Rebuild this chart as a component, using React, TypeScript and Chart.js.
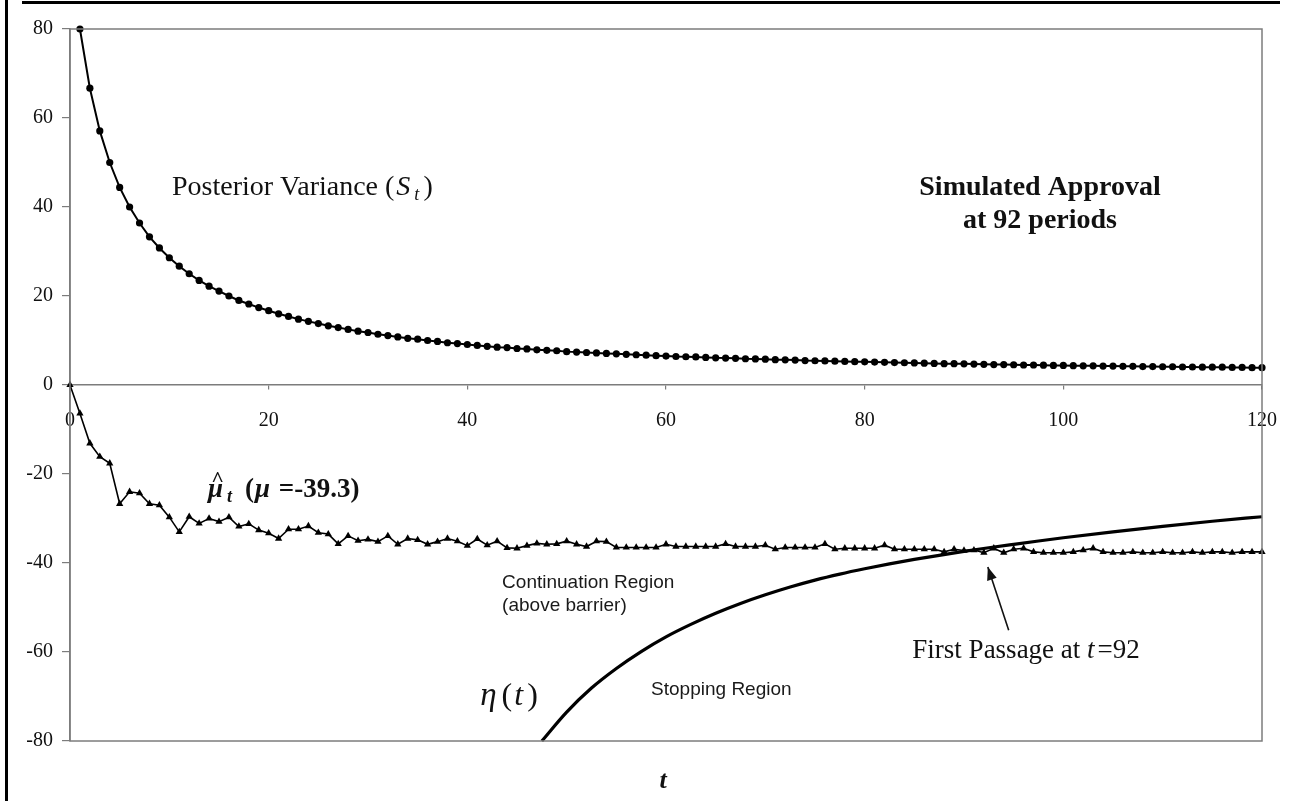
import React, { useEffect, useRef } from 'react';
import { Chart, registerables } from 'chart.js';

Chart.register(...registerables);

// ---- data ----
const xTickValues = [0, 20, 40, 60, 80, 100, 120];
const yTickValues = [-80, -60, -40, -20, 0, 20, 40, 60, 80];

// Posterior variance S_t, starting at t = 1
const varianceStartT = 1;
const varianceValues = [
  80.0, 66.7, 57.1, 50.0, 44.4, 40.0, 36.4, 33.3, 30.8, 28.6,
  26.7, 25.0, 23.5, 22.2, 21.1, 20.0, 19.0, 18.2, 17.4, 16.7,
  16.0, 15.4, 14.8, 14.3, 13.8, 13.3, 12.9, 12.5, 12.1, 11.8,
  11.4, 11.1, 10.8, 10.5, 10.3, 10.0, 9.8, 9.5, 9.3, 9.1,
  8.9, 8.7, 8.5, 8.4, 8.2, 8.1, 7.9, 7.8, 7.7, 7.5,
  7.4, 7.3, 7.2, 7.1, 7.0, 6.9, 6.8, 6.7, 6.6, 6.5,
  6.4, 6.35, 6.3, 6.2, 6.1, 6.05, 6.0, 5.9, 5.85, 5.8,
  5.7, 5.65, 5.6, 5.5, 5.45, 5.4, 5.35, 5.3, 5.25, 5.2,
  5.15, 5.1, 5.05, 5.0, 4.95, 4.9, 4.85, 4.8, 4.8, 4.75,
  4.7, 4.65, 4.6, 4.6, 4.55, 4.5, 4.5, 4.45, 4.4, 4.4,
  4.35, 4.3, 4.3, 4.25, 4.25, 4.2, 4.2, 4.15, 4.15, 4.1,
  4.1, 4.05, 4.05, 4.0, 4.0, 4.0, 3.95, 3.95, 3.9, 3.9,
];

// Posterior mean estimate mu-hat_t, starting at t = 0
const muStartT = 0;
const muValues = [
  0, -6.4, -13.1, -16.1, -17.6, -26.7, -24.0, -24.3, -26.7, -27.0,
  -29.7, -33.0, -29.6, -31.1, -30.0, -30.7, -29.7, -31.8, -31.2, -32.6,
  -33.3, -34.5, -32.4, -32.4, -31.7, -33.2, -33.5, -35.7, -33.9, -35.0,
  -34.7, -35.2, -33.9, -35.8, -34.5, -34.8, -35.8, -35.2, -34.5, -35.1,
  -36.1, -34.6, -36.0, -35.1, -36.6, -36.7, -36.1, -35.6, -35.8, -35.7,
  -35.1, -35.8, -36.3, -35.1, -35.2, -36.5, -36.5, -36.5, -36.5, -36.5,
  -35.8, -36.3, -36.3, -36.3, -36.3, -36.3, -35.7, -36.3, -36.3, -36.3,
  -36.0, -36.9, -36.5, -36.5, -36.5, -36.5, -35.7, -36.9, -36.7, -36.7,
  -36.7, -36.7, -36.0, -36.9, -36.9, -36.9, -36.9, -36.9, -37.5, -36.9,
  -37.2, -37.1, -37.7, -36.7, -37.7, -36.9, -36.7, -37.5, -37.7, -37.7,
  -37.7, -37.5, -37.1, -36.7, -37.5, -37.7, -37.7, -37.5, -37.7, -37.7,
  -37.5, -37.7, -37.7, -37.5, -37.7, -37.5, -37.5, -37.7, -37.5, -37.5,
  -37.5,
];

// Barrier eta(t)
const barrierT = [
  47.5, 50, 52.5, 55, 57.5, 60, 62.5, 65, 67.5, 70, 72.5, 75, 77.5, 80,
  82.5, 85, 87.5, 90, 92.5, 95, 97.5, 100, 105, 110, 115, 120,
];
const barrierValues = [
  -80.0, -73.5, -68.1, -63.7, -59.9, -56.6, -53.8, -51.3, -49.1, -47.15, -45.4, -43.85, -42.5, -41.3,
  -40.2, -39.2, -38.27, -37.4, -36.57, -35.8, -35.05, -34.33, -33.0, -31.75, -30.62, -29.6,
];

const SERIF = '"Liberation Serif", "Times New Roman", serif';
const SANS = '"Liberation Sans", Arial, sans-serif';

type Part = { text: string; font: string; dx?: number; dy?: number };

const annotationPlugin = {
  id: 'figureAnnotations',
  afterDraw(chart: any) {
    const { ctx, chartArea: ca, scales } = chart;
    const X = (t: number) => scales.x.getPixelForValue(t);
    const Y = (v: number) => scales.y.getPixelForValue(v);
    ctx.save();

    // plot frame
    ctx.strokeStyle = '#7c7c7c';
    ctx.lineWidth = 1.5;
    ctx.strokeRect(ca.left, ca.top, ca.right - ca.left, ca.bottom - ca.top);

    ctx.fillStyle = '#111';
    ctx.textBaseline = 'alphabetic';
    ctx.textAlign = 'left';

    const seq = (parts: Part[], x0: number, y0: number) => {
      let cx = x0;
      for (const p of parts) {
        ctx.font = p.font;
        cx += p.dx || 0;
        ctx.fillText(p.text, cx, y0 + (p.dy || 0));
        cx += ctx.measureText(p.text).width;
      }
    };

    // Posterior Variance (S_t)
    seq(
      [
        { text: 'Posterior Variance (', font: `28px ${SERIF}` },
        { text: 'S', font: `italic 28px ${SERIF}`, dx: 2 },
        { text: 't', font: `italic 18px ${SERIF}`, dx: 4, dy: 5 },
        { text: ')', font: `28px ${SERIF}`, dx: 4 },
      ],
      X(10.27),
      Y(42.7)
    );

    // Simulated Approval
    ctx.textAlign = 'center';
    ctx.font = `bold 28px ${SERIF}`;
    ctx.fillText('Simulated Approval', X(97.65), Y(42.7));
    ctx.fillText('at 92 periods', X(97.65), Y(35.3));
    ctx.textAlign = 'left';

    // mu-hat label
    const mx = X(13.9);
    const my = Y(-25.2);
    ctx.font = `bold italic 27px ${SERIF}`;
    ctx.fillText('\u03bc', mx, my);
    const muW = ctx.measureText('\u03bc').width;
    ctx.font = `bold 22px ${SERIF}`;
    ctx.textAlign = 'center';
    ctx.fillText('^', mx + muW / 2 + 2, my - 11);
    ctx.textAlign = 'left';
    seq(
      [
        { text: 't', font: `bold italic 18px ${SERIF}`, dx: muW + 4, dy: 5 },
        { text: '(', font: `bold 27px ${SERIF}`, dx: 13 },
        { text: '\u03bc', font: `bold italic 27px ${SERIF}`, dx: 1 },
        { text: ' =-39.3)', font: `bold 27px ${SERIF}`, dx: 2 },
      ],
      mx,
      my
    );

    // Region labels
    ctx.font = `19px ${SANS}`;
    ctx.fillStyle = '#1a1a1a';
    ctx.fillText('Continuation Region', X(43.5), Y(-45.6));
    ctx.fillText('(above barrier)', X(43.5), Y(-50.8));
    ctx.fillText('Stopping Region', X(58.5), Y(-69.7));
    ctx.fillStyle = '#111';

    // eta(t)
    seq(
      [
        { text: '\u03b7', font: `italic 33px ${SERIF}` },
        { text: '(', font: `32px ${SERIF}`, dx: 5 },
        { text: 't', font: `italic 32px ${SERIF}`, dx: 2 },
        { text: ')', font: `32px ${SERIF}`, dx: 4 },
      ],
      X(41.3),
      Y(-72.0)
    );

    // First Passage
    seq(
      [
        { text: 'First Passage at ', font: `27px ${SERIF}` },
        { text: 't', font: `italic 27px ${SERIF}` },
        { text: '=92', font: `27px ${SERIF}`, dx: 3 },
      ],
      X(84.8),
      Y(-61.3)
    );

    // Arrow
    const ax0 = X(94.5), ay0 = Y(-55.1), ax1 = X(92.4), ay1 = Y(-40.9);
    ctx.strokeStyle = '#111';
    ctx.lineWidth = 1.6;
    ctx.beginPath();
    ctx.moveTo(ax0, ay0);
    ctx.lineTo(ax1, ay1);
    ctx.stroke();
    const ang = Math.atan2(ay1 - ay0, ax1 - ax0);
    const hl = 13, hw = 5;
    ctx.beginPath();
    ctx.moveTo(ax1, ay1);
    ctx.lineTo(ax1 - hl * Math.cos(ang) + hw * Math.sin(ang), ay1 - hl * Math.sin(ang) - hw * Math.cos(ang));
    ctx.lineTo(ax1 - hl * Math.cos(ang) - hw * Math.sin(ang), ay1 - hl * Math.sin(ang) + hw * Math.cos(ang));
    ctx.closePath();
    ctx.fill();

    // axis title t
    ctx.textAlign = 'center';
    ctx.font = `bold italic 26px ${SERIF}`;
    ctx.fillText('t', (ca.left + ca.right) / 2 - 3, ca.bottom + 47);

    ctx.restore();
  },
};

export default function App() {
  const canvasRef = useRef<HTMLCanvasElement | null>(null);

  useEffect(() => {
    const canvas = canvasRef.current;
    if (!canvas) return;
    const varianceData = varianceValues.map((v, i) => ({ x: varianceStartT + i, y: v }));
    const muData = muValues.map((v, i) => ({ x: muStartT + i, y: v }));
    const barrierData = barrierT.map((t, i) => ({ x: t, y: barrierValues[i] }));

    const chart = new Chart(canvas, {
      type: 'scatter',
      data: {
        datasets: [
          {
            label: 'Posterior Variance',
            data: varianceData,
            showLine: true,
            borderColor: '#000',
            backgroundColor: '#000',
            borderWidth: 2,
            pointStyle: 'circle',
            pointRadius: 3.6,
            pointBorderWidth: 0,
            clip: false,
          },
          {
            label: 'mu hat',
            data: muData,
            showLine: true,
            borderColor: '#000',
            backgroundColor: '#000',
            borderWidth: 1.6,
            pointStyle: 'triangle',
            pointRadius: 4.2,
            pointBorderWidth: 0,
            clip: false,
          },
          {
            label: 'barrier',
            data: barrierData,
            showLine: true,
            borderColor: '#000',
            borderWidth: 3.2,
            pointRadius: 0,
            cubicInterpolationMode: 'monotone',
            clip: false,
          },
        ],
      },
      options: {
        animation: false,
        responsive: false,
        devicePixelRatio: 1,
        layout: { padding: { top: 29, right: 30, bottom: 60, left: 0 } },
        plugins: {
          legend: { display: false },
          tooltip: { enabled: false },
          title: { display: false },
        },
        scales: {
          x: {
            type: 'linear',
            position: { y: 0 } as any,
            min: 0,
            max: 120,
            afterBuildTicks: (s: any) => {
              s.ticks = xTickValues.map((v) => ({ value: v }));
            },
            afterFit: (s: any) => {
              s.paddingLeft = 0;
              s.paddingRight = 0;
            },
            ticks: {
              font: { family: SERIF, size: 20 },
              color: '#111',
              padding: 20,
              maxRotation: 0,
              autoSkip: false,
            },
            grid: { drawOnChartArea: false, tickLength: 4, color: '#7c7c7c', lineWidth: 1.2 },
            border: { color: '#7c7c7c', width: 1.5 },
          },
          y: {
            type: 'linear',
            position: 'left',
            min: -80,
            max: 80,
            afterBuildTicks: (s: any) => {
              s.ticks = yTickValues.map((v) => ({ value: v }));
            },
            afterFit: (s: any) => {
              s.width = 70;
              s.paddingTop = 0;
              s.paddingBottom = 0;
            },
            ticks: {
              font: { family: SERIF, size: 20 },
              color: '#111',
              padding: 9,
            },
            grid: { drawOnChartArea: false, tickLength: 8, color: '#7c7c7c', lineWidth: 1.2 },
            border: { color: '#7c7c7c', width: 1.5 },
          },
        },
      },
      plugins: [annotationPlugin],
    } as any);

    return () => chart.destroy();
  }, []);

  return (
    <div style={{ position: 'fixed', left: 0, top: 0, width: 1292, height: 801, background: '#fff', overflow: 'hidden' }}>
      <canvas ref={canvasRef} width={1292} height={801} style={{ position: 'absolute', left: 0, top: 0, width: 1292, height: 801 }} />
      <div style={{ position: 'absolute', left: 22, top: 1, width: 1258, height: 3, background: '#000' }} />
      <div style={{ position: 'absolute', left: 5, top: 0, width: 3, height: 801, background: '#000' }} />
    </div>
  );
}
